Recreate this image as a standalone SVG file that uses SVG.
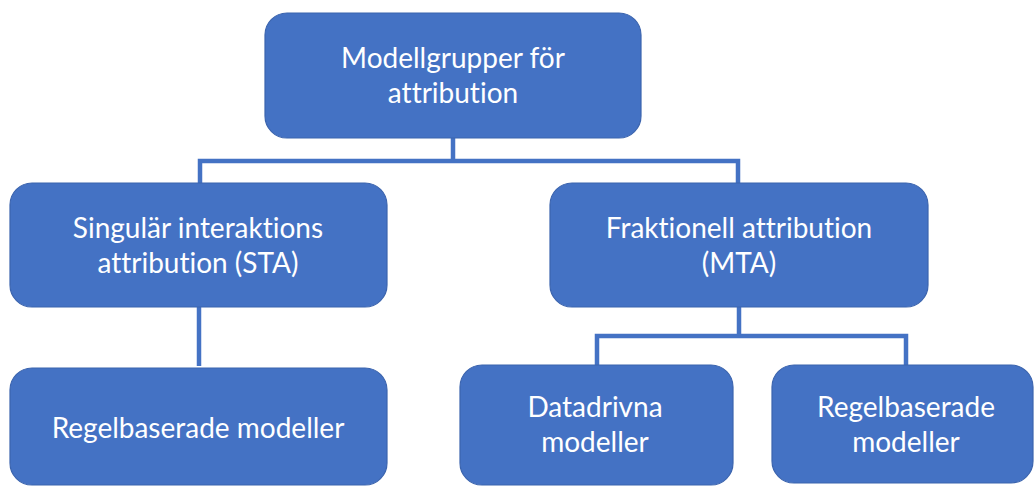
<svg xmlns="http://www.w3.org/2000/svg" width="1034" height="486" viewBox="0 0 1034 486">
<style>
.box{fill:#4472C4;stroke:#3B64AE;stroke-width:1.2}
.lbl{fill:#FFFFFF;font-family:Lato,"Liberation Sans",sans-serif;font-size:28px;text-anchor:middle;font-variant-ligatures:none}
.conn{fill:none;stroke:#4472C4;stroke-width:4.5}
</style>
<rect width="1034" height="486" fill="#FFFFFF"/>
<g id="connectors">
<path class="conn" d="M453 138 V161 M200 183 V161 H738 V183"/>
<path class="conn" d="M199 307 V366"/>
<path class="conn" d="M739 307 V336 M597 365 V336 H906 V365"/>
</g>
<g id="root">
<rect class="box" x="265" y="13" width="376" height="125" rx="22"/>
<text class="lbl" x="453" y="68">Modellgrupper för</text>
<text class="lbl" x="453" y="103">attribution</text>
</g>
<g id="sta">
<rect class="box" x="10" y="183" width="377" height="124" rx="22"/>
<text class="lbl" x="198" y="238">Singulär interaktions</text>
<text class="lbl" x="198" y="273">attribution (STA)</text>
</g>
<g id="mta">
<rect class="box" x="550" y="183" width="378" height="124" rx="22"/>
<text class="lbl" x="739" y="238">Fraktionell attribution</text>
<text class="lbl" x="739" y="273">(MTA)</text>
</g>
<g id="sta-regel">
<rect class="box" x="10" y="368" width="377" height="117" rx="22"/>
<text class="lbl" x="198" y="438">Regelbaserade modeller</text>
</g>
<g id="datadrivna">
<rect class="box" x="460" y="365" width="273" height="120" rx="22"/>
<text class="lbl" x="595" y="417">Datadrivna</text>
<text class="lbl" x="595" y="452">modeller</text>
</g>
<g id="mta-regel">
<rect class="box" x="772" y="365" width="261" height="118" rx="22"/>
<text class="lbl" x="906" y="417">Regelbaserade</text>
<text class="lbl" x="906" y="452">modeller</text>
</g>
</svg>
